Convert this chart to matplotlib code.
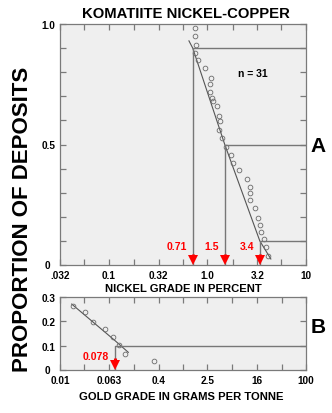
import matplotlib.pyplot as plt
from matplotlib.ticker import NullFormatter

plt.rcParams['font.family'] = ['Liberation Sans', 'DejaVu Sans']
plt.rcParams['font.weight'] = 'bold'

# panel A - nickel grade (percent), 31 deposits
ni_grade = [0.75, 0.75, 0.76, 0.75, 0.81, 0.95, 1.09, 1.06, 1.06, 1.12, 1.15,
            1.26, 1.32, 1.34, 1.32, 1.42, 1.55, 1.72, 1.83, 2.1, 2.54, 2.7,
            2.7, 2.7, 3.04, 3.28, 3.39, 3.5, 3.78, 3.9, 4.15]
ni_prop = [0.985, 0.95, 0.913, 0.881, 0.849, 0.819, 0.775, 0.752, 0.719, 0.692,
           0.68, 0.66, 0.618, 0.598, 0.559, 0.528, 0.49, 0.456, 0.423, 0.394,
           0.357, 0.325, 0.298, 0.27, 0.235, 0.195, 0.166, 0.138, 0.108, 0.075,
           0.039]
ni_fit_x = [0.65, 0.71, 1.5, 3.4, 4.4]
ni_fit_y = [0.93, 0.9, 0.5, 0.1, 0.025]
ni_cut = [0.71, 1.5, 3.4]          # 90th, 50th, 10th percentiles
ni_cut_prop = [0.9, 0.5, 0.1]
ni_cut_labels = ['0.71', '1.5', '3.4']
ni_ticks = [0.032, 0.1, 0.32, 1.0, 3.2, 10]
ni_ticklabels = ['.032', '0.1', '0.32', '1.0', '3.2', '10']
ni_minor = [0.056, 0.18, 0.56, 1.8, 5.6]

# panel B - gold grade (g/t)
au_grade = [0.0161, 0.0255, 0.0348, 0.0539, 0.0719, 0.092, 0.114, 0.337]
au_prop = [0.265, 0.238, 0.196, 0.169, 0.137, 0.104, 0.065, 0.037]
au_fit_x = [0.0155, 0.078, 0.129]
au_fit_y = [0.272, 0.121, 0.072]
au_cut = [0.078]
au_cut_prop = [0.1]
au_cut_labels = ['0.078']
au_ticks = [0.01, 0.063, 0.4, 2.5, 16, 100]
au_ticklabels = ['0.01', '0.063', '0.4', '2.5', '16', '100']
au_minor = [0.025, 0.16, 1.0, 6.3, 40]

spine_col = '#7a7a7a'
face_col = '#efefef'

fig = plt.figure(figsize=(3.32, 4.14), dpi=100)
axA = fig.add_axes([60 / 332, 1 - 266 / 414, 246 / 332, 241 / 414])
axB = fig.add_axes([60 / 332, 1 - 370.7 / 414, 246 / 332, 72.4 / 414])


def grade_panel(ax, grade, prop, fit_x, fit_y, cuts, cut_prop, cut_labels,
                xlim, ylim, label_y):
    ax.set_facecolor(face_col)
    ax.set_xscale('log')
    ax.set_xlim(xlim)
    ax.set_ylim(ylim)
    ax.plot(fit_x, fit_y, color='#555555', lw=0.8)
    ax.plot(grade, prop, 'o', mfc='none', mec='#6a6a6a', ms=3.4, mew=0.6)
    for c, p, lab in zip(cuts, cut_prop, cut_labels):
        ax.plot([c, c, xlim[1]], [0, p, p], color='#777777', lw=1)
        # red arrow pointing down to the grade axis
        ax.plot([c, c], [0.02, 0.047], color='red', lw=2.2, solid_capstyle='butt')
        ax.plot([c], [0.019], marker='v', color='red', ms=6.5, mew=0)
        ax.annotate(lab, xy=(c, label_y), xytext=(-4, 0), textcoords='offset points',
                    ha='right', va='center', color='red', fontsize=7.5,
                    fontweight='bold')
    for s in ax.spines.values():
        s.set_color(spine_col)
        s.set_linewidth(0.9)
    ax.tick_params(which='both', direction='in', top=True, right=True,
                   length=4, width=0.9, color=spine_col, labelsize=7.2)
    ax.tick_params(axis='x', pad=3.5)
    ax.tick_params(axis='y', pad=3.5)
    ax.xaxis.set_minor_formatter(NullFormatter())
    # the zero of the proportion scale sits a little further out
    ax.annotate('0', xy=(0, 0), xycoords='axes fraction', xytext=(-7, 0),
                textcoords='offset points', ha='right', va='center',
                fontsize=7.2, fontweight='bold')


grade_panel(axA, ni_grade, ni_prop, ni_fit_x, ni_fit_y, ni_cut, ni_cut_prop,
            ni_cut_labels, (0.032, 10), (0, 1.0), 0.079)
axA.set_xticks(ni_ticks)
axA.set_xticklabels(ni_ticklabels)
axA.set_xticks(ni_minor, minor=True)
axA.set_yticks([0, 0.5, 1.0])
axA.set_yticklabels(['', '0.5', '1.0'])
axA.set_yticks([0.1, 0.2, 0.3, 0.4, 0.6, 0.7, 0.8, 0.9], minor=True)
axA.text(0.785, 0.795, 'n = 31', transform=axA.transAxes, ha='center',
         va='center', fontsize=7.5, fontweight='bold')

grade_panel(axB, au_grade, au_prop, au_fit_x, au_fit_y, au_cut, au_cut_prop,
            au_cut_labels, (0.01, 100), (0, 0.3), 0.057)
axB.set_xticks(au_ticks)
axB.set_xticklabels(au_ticklabels)
axB.set_xticks(au_minor, minor=True)
axB.set_yticks([0, 0.1, 0.2, 0.3])
axB.set_yticklabels(['', '0.1', '0.2', '0.3'])
axB.set_yticks([], minor=True)

fig.text(0.56, 0.966, 'KOMATIITE NICKEL-COPPER', ha='center', va='center',
         fontsize=10.7, fontweight='bold')
fig.text(0.069, 0.469, 'PROPORTION OF DEPOSITS', rotation=90, ha='center',
         va='center', fontsize=16, fontweight='bold')
fig.text(0.551, 0.302, 'NICKEL GRADE IN PERCENT', ha='center', va='center',
         fontsize=8.1, fontweight='bold')
fig.text(0.545, 0.041, 'GOLD GRADE IN GRAMS PER TONNE', ha='center',
         va='center', fontsize=8.1, fontweight='bold')
fig.text(0.959, 0.647, 'A', ha='center', va='center', fontsize=15,
         fontweight='bold')
fig.text(0.959, 0.208, 'B', ha='center', va='center', fontsize=15,
         fontweight='bold')

fig.savefig('out.png', dpi=100)
